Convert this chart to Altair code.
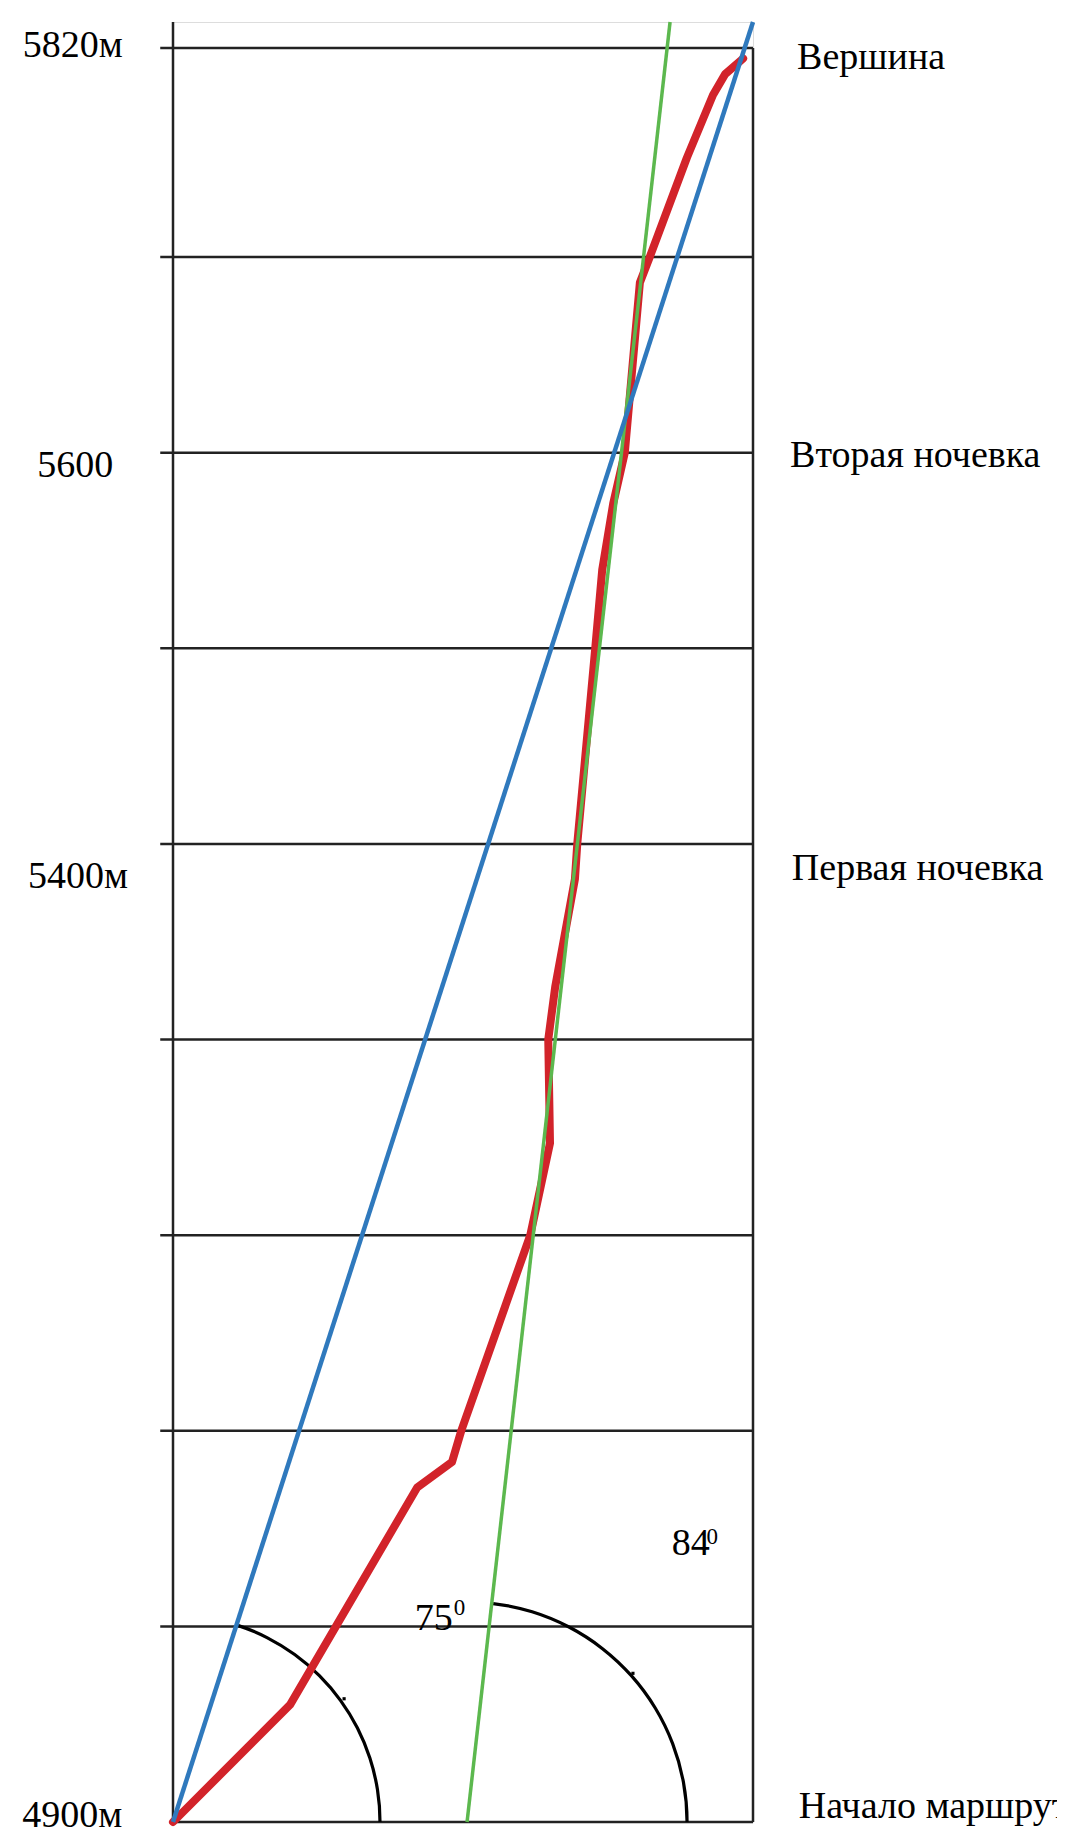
import altair as alt
import pandas as pd

# ---- data ----
grid_alt = [5000, 5100, 5200, 5300, 5400, 5500, 5600, 5700, 5820]

red_x = [0, 20.2, 42.1, 48.1, 49.7, 61.6, 65.0, 64.7, 65.9, 69.3, 69.7,
         72.8, 74.0, 75.9, 77.9, 80.5, 82.2, 88.6, 93.1, 95.2, 98.3]
red_alt = [4900, 4960, 5071, 5084, 5100, 5200, 5247, 5300, 5327, 5382, 5400,
           5500, 5540, 5574, 5600, 5687, 5700, 5757, 5793, 5805, 5814]

blue_x = [0, 100]
blue_alt = [4900, 5835]

green_x = [50.7, 85.7]
green_alt = [4900, 5835]

arc_cx = [0, 50.7]
arc_calt = [4900, 4900]
arc_start_deg = [18, 6.8]
arc_end_deg = [90, 90]
arc_r = [207, 220]

tick_x = [29.5, 79.3]
tick_alt = [4963, 4976]

label_text = ["5820м", "5600", "5400м", "4900м",
              "Вершина", "Вторая ночевка", "Первая ночевка", "Начало маршрута",
              "75", "0", "84", "0"]
label_x = [-25.9, -23.4, -25.0, -26.0,
           107.6, 106.4, 106.7, 107.9,
           41.7, 48.4, 86.0, 92.0]
label_alt = [5814.8, 5587.6, 5377.5, 4897.2,
             5807.9, 5592.7, 5381.6, 4902,
             4998.2, 5006.0, 5036.5, 5042.0]
label_size = [38, 38, 38, 38, 38, 38, 38, 38, 38, 23, 38, 23]

# ---- scales ----
xs = alt.Scale(domain=[0, 100], nice=False, zero=False)
ys = alt.Scale(domain=[4900, 5700, 5820, 5835], range=[1800, 235, 26, 0])


def X(f):
    return alt.X(f, type="quantitative", scale=xs, axis=None)


def Y(f):
    return alt.Y(f, type="quantitative", scale=ys, axis=None)


grid_df = pd.DataFrame({"alt": grid_alt})
grid_df["x0"] = -2.2
grid_df["x1"] = 100
grid = alt.Chart(grid_df).mark_rule(color="#222222", strokeWidth=2.5).encode(
    x=X("x0"), x2="x1", y=Y("alt")
)

frame_df = pd.DataFrame({"x": [0, 100, 0], "x2": [0, 100, 100],
                         "a": [4900, 4900, 4900], "a2": [5835, 5820, 4900]})
frame = alt.Chart(frame_df).mark_rule(color="#222222", strokeWidth=2.5).encode(
    x=X("x"), x2="x2", y=Y("a"), y2="a2"
)

red_df = pd.DataFrame({"x": red_x, "alt": red_alt, "i": list(range(len(red_x)))})
red = alt.Chart(red_df).mark_line(color="#d2232a", strokeWidth=8,
                                  strokeJoin="round", strokeCap="round").encode(
    x=X("x"), y=Y("alt"), order="i:Q"
)

green_df = pd.DataFrame({"x": green_x, "alt": green_alt, "i": [0, 1]})
green = alt.Chart(green_df).mark_line(color="#5cb84e", strokeWidth=3.5).encode(
    x=X("x"), y=Y("alt"), order="i:Q"
)

blue_df = pd.DataFrame({"x": blue_x, "alt": blue_alt, "i": [0, 1]})
blue = alt.Chart(blue_df).mark_line(color="#2f79bd", strokeWidth=4.5).encode(
    x=X("x"), y=Y("alt"), order="i:Q"
)

arc_df = pd.DataFrame({"x": arc_cx, "alt": arc_calt, "t1": arc_start_deg,
                       "t2": arc_end_deg, "r": arc_r})
arcs = alt.Chart(arc_df).transform_calculate(
    th1="datum.t1 * PI / 180", th2="datum.t2 * PI / 180",
    ro="datum.r + 1.6", ri="datum.r - 1.6"
).mark_arc(color="black").encode(
    x=X("x"), y=Y("alt"),
    theta=alt.Theta("th1:Q", scale=None, stack=None),
    theta2="th2:Q",
    radius=alt.Radius("ro:Q", scale=None),
    radius2="ri:Q",
)

tick_df = pd.DataFrame({"x": tick_x, "alt": tick_alt})
ticks = alt.Chart(tick_df).mark_point(shape="square", filled=True, color="black",
                                      size=10, opacity=1).encode(
    x=X("x"), y=Y("alt")
)

lab_df = pd.DataFrame({"t": label_text, "x": label_x, "alt": label_alt,
                       "s": label_size})
labels = alt.Chart(lab_df).mark_text(align="left", baseline="alphabetic",
                                     font="Liberation Serif", color="black").encode(
    x=X("x"), y=Y("alt"), text="t:N", size=alt.Size("s:Q", scale=None)
)

chart = alt.layer(grid, frame, arcs, red, green, blue, ticks, labels).properties(
    width=580, height=1800,
    autosize=alt.AutoSizeParams(type="none"),
    padding={"left": 165, "top": 14, "right": 304, "bottom": 7},
).configure_view(stroke=None).configure(background="white")

chart.save("out.html", embed_options={"renderer": "svg", "actions": False})
